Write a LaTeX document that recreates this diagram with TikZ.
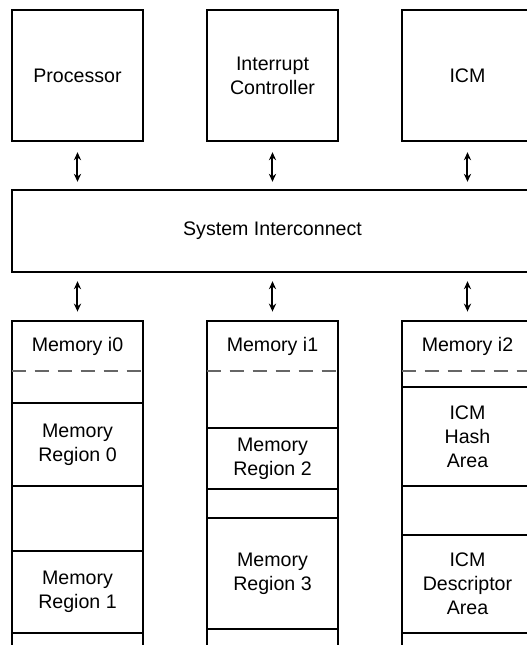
\documentclass[tikz,border=0pt]{standalone}
\usepackage{fontspec}
\setmainfont{Liberation Sans}
\usetikzlibrary{arrows.meta}
\tikzstyle{blk}=[draw, line width=1.2pt, inner sep=0, align=center, minimum width=65.5pt, font=\fontsize{9.8}{12}\selectfont]
\tikzstyle{hdr}=[inner sep=0, minimum width=65.5pt, minimum height=25pt, font=\fontsize{9.8}{12}\selectfont]
\tikzstyle{bus}=[{Stealth[length=4pt,width=3.6pt]}-{Stealth[length=4pt,width=3.6pt]}, line width=1pt]
\tikzstyle{sep}=[black!60, dash pattern=on 7pt off 4.5pt, line width=1pt]

\begin{document}
\begin{tikzpicture}[x=0.5pt, y=-0.5pt]
\path[use as bounding box, clip] (0,0) rectangle (527,645);
\foreach \x/\t/\c in {0/Processor/77.5, 1/Interrupt\\Controller/272.5, 2/ICM/467.5}
{
\node[blk, minimum height=65.5pt] (T\x) at (\c,75.5) {\t};
}
\node[blk, minimum width=260.5pt, minimum height=41pt] (IC) at (272.5,231) {System Interconnect};
\foreach \x/\c in {0/77.5, 1/272.5, 2/467.5}
{
\draw[line width=1.2pt] ({\c-65.5},321) rectangle ({\c+65.5},700);
\node[hdr] (H\x) at (\c,346) {Memory i\x};
\draw[sep] (H\x.south west) -- (H\x.south east);
\draw[bus, shorten <=5pt, shorten >=3.5pt] (T\x.south) -- (T\x.south |- IC.north);
\draw[bus, shorten <=4pt, shorten >=4.5pt] (IC.south -| H\x.north) -- (H\x.north);
}
\node[blk, minimum height=41.5pt] (R0) at (77.5,444.5) {Memory\\Region 0};
\node[blk, minimum height=41pt] (R1) at (77.5,592) {Memory\\Region 1};
\node[blk, minimum height=30.5pt] (R2) at (272.5,458.5) {Memory\\Region 2};
\node[blk, minimum height=55.5pt] (R3) at (272.5,573.5) {Memory\\Region 3};
\node[blk, minimum height=49.5pt] (R4) at (467.5,436.5) {ICM\\Hash\\Area};
\node[blk, minimum height=49pt] (R5) at (467.5,584) {ICM\\Descriptor\\Area};
\end{tikzpicture}
\end{document}
